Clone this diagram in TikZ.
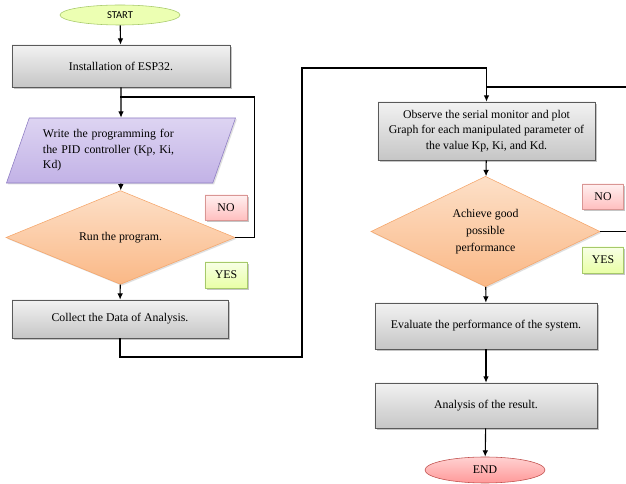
\documentclass[tikz,border=0pt]{standalone}
\usepackage{fontspec}
\setmainfont{Liberation Serif}
\newfontfamily\startfont{Carlito}
\usetikzlibrary{shapes.geometric,arrows.meta,shadows}

\definecolor{boxline}{HTML}{5A5A5A}
\definecolor{greenline}{HTML}{A6C96A}
\definecolor{purpline}{HTML}{8E7CC3}
\definecolor{purptop}{HTML}{DDD4F2}
\definecolor{purpbot}{HTML}{C2B2E6}
\definecolor{orangeline}{HTML}{F5A66B}
\definecolor{orangetop}{HTML}{FDE0C8}
\definecolor{orangebot}{HTML}{FAB886}
\definecolor{redline}{HTML}{C0504D}
\definecolor{pinkline}{HTML}{D99694}

\begin{document}
\begin{tikzpicture}[x=0.025cm,y=-0.025cm,
  >={Latex[length=4.5pt,width=4pt]},
  every node/.style={font=\fontsize{8.4}{11}\selectfont},
  shade/.style={drop shadow={shadow xshift=1.2pt,shadow yshift=-1.2pt,fill=black!45}},
  graybox/.style={rectangle,draw=boxline,top color=gray!10,bottom color=gray!45,shade,align=center},
  decision/.style={diamond,draw=orangeline,top color=orangetop,bottom color=orangebot,
    drop shadow={shadow xshift=1pt,shadow yshift=-1pt,fill=black!25},inner sep=0pt,align=center},
  inputbox/.style={trapezium,trapezium left angle=66,trapezium right angle=114,trapezium stretches body,
    draw=purpline,top color=purptop,bottom color=purpbot,
    drop shadow={shadow xshift=1pt,shadow yshift=-1pt,fill=black!25},align=left},
  nobox/.style={rectangle,draw=pinkline,top color=red!6,bottom color=red!25,shade,minimum width=1.05cm,minimum height=0.625cm},
  yesbox/.style={rectangle,draw=greenline,top color=green!5!lime!10,bottom color=lime!35,shade,minimum width=1.05cm,minimum height=0.65cm},
  flow/.style={->,line width=0.8pt},
  link/.style={line width=0.8pt}]

\useasboundingbox (0,0) rectangle (626,484);
\clip (0,0) rectangle (626,484);

% Left column
\node[ellipse,draw=greenline,fill=lime!30,minimum width=3cm,minimum height=0.5cm,inner sep=0pt,
  font=\startfont\fontsize{7.5}{9}\selectfont] (start) at (120,15) {START};
\node[graybox,minimum width=5.45cm,minimum height=1.05cm] (install) at (121,66) {Installation of ESP32.};
\node[inputbox,minimum width=5.725cm,minimum height=1.625cm,text width=3.9cm] (write) at (121,150.5)
  {Write the programming for\\the PID controller (Kp, Ki,\\Kd)};
\node[decision,minimum width=5.725cm,minimum height=1.625cm] (run) at (120.5,237.5) {Run the program.};
\node[graybox,minimum width=5.4cm,minimum height=0.95cm] (collect) at (120,319) {Collect the Data of Analysis.};

% Labels of the first decision
\node[nobox] (no1) at (226,207.5) {NO};
\node[yesbox] (yes1) at (226,275) {YES};

% Right column
\node[graybox,minimum width=5.425cm,minimum height=1.45cm] (observe) at (486.5,131)
  {Observe the serial monitor and plot\\Graph for each manipulated parameter of\\the value Kp, Ki, and Kd.};
\node[decision,minimum width=5.725cm,minimum height=1.925cm,font=\fontsize{8.4}{12}\selectfont] (perf) at (485.5,231.5)
  {Achieve good\\possible\\performance};
\node[graybox,minimum width=5.55cm,minimum height=1.15cm] (eval) at (486,326) {Evaluate the performance of the system.};
\node[graybox,minimum width=5.55cm,minimum height=1.125cm] (analysis) at (486,405.5) {Analysis of the result.};
\node[ellipse,draw=redline,top color=red!18,bottom color=red!40,minimum width=3cm,minimum height=0.65cm,inner sep=0pt] (end) at (485,470) {END};

% Labels of the second decision
\node[nobox,minimum width=1.025cm] (no2) at (603,196.5) {NO};
\node[yesbox,minimum width=1.025cm] (yes2) at (603,260) {YES};

% Helper points
\coordinate (loopin) at (120,97);
\coordinate (edgeA) at (630,87);
\coordinate (edgeB) at (630,231.5);
\coordinate (bottomturn) at (302,357);

% Main flow
\draw[flow] (start) -- (install);
\draw[flow] (install) -- (write);
\draw[flow] (write) -- (run);
\draw[flow] (run) -- (collect);
\draw[link] (run.east) -- ++(19,0) |- (loopin);
\draw[flow] (collect.south) |- (bottomturn) -- (302,68) -| (observe.north);
\draw[link] (edgeA) -- (edgeA -| observe.north);
\draw[flow] (observe) -- (perf);
\draw[link] (perf.east) -- (edgeB);
\draw[flow] (perf) -- (eval);
\draw[flow] (eval) -- (analysis);
\draw[flow] (analysis) -- (end);

\end{tikzpicture}
\end{document}
